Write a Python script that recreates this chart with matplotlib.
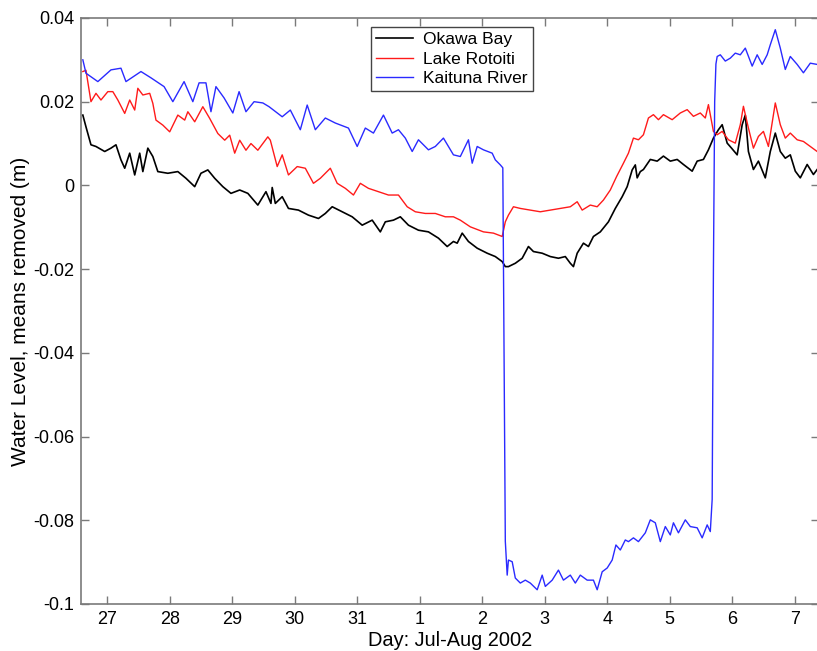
import matplotlib
matplotlib.use("Agg")
import matplotlib.pyplot as plt

plt.rcParams['font.family'] = ['Liberation Sans', 'DejaVu Sans']

# time axis: day of July 2002 (1 Aug = 32)
okawa_day = [26.61, 26.66, 26.74, 26.82, 26.96, 27.06, 27.14, 27.22, 27.28, 27.36,
             27.44, 27.52, 27.57, 27.65, 27.73, 27.81, 27.97, 28.13, 28.26, 28.40,
             28.50, 28.61, 28.72, 28.85, 28.98, 29.12, 29.25, 29.41, 29.54, 29.62,
             29.64, 29.69, 29.80, 29.90, 30.06, 30.22, 30.38, 30.49, 30.60, 30.76,
             30.92, 31.08, 31.24, 31.37, 31.45, 31.58, 31.69, 31.82, 31.98, 32.14,
             32.30, 32.44, 32.54, 32.60, 32.68, 32.78, 32.92, 33.08, 33.21, 33.32,
             33.37, 33.42, 33.53, 33.64, 33.74, 33.82, 33.96, 34.09, 34.22, 34.33,
             34.41, 34.46, 34.52, 34.62, 34.70, 34.78, 34.89, 35.02, 35.13, 35.24,
             35.32, 35.40, 35.45, 35.48, 35.53, 35.58, 35.69, 35.80, 35.90, 36.01,
             36.12, 36.22, 36.36, 36.44, 36.54, 36.62, 36.70, 36.78, 36.84, 36.92,
             36.99, 37.08, 37.16, 37.21, 37.26, 37.34, 37.42, 37.53, 37.61, 37.69,
             37.77, 37.85, 37.93, 38.01, 38.09, 38.20, 38.30, 38.36]
okawa_level = [0.0168, 0.0140, 0.0097, 0.0093, 0.0081, 0.0089, 0.0097, 0.0061, 0.0041, 0.0077,
               0.0025, 0.0077, 0.0033, 0.0089, 0.0069, 0.0033, 0.0029, 0.0033, 0.0017, -0.0003,
               0.0029, 0.0037, 0.0017, -0.0003, -0.0019, -0.0011, -0.0019, -0.0047, -0.0015, -0.0043,
               -0.0005, -0.0043, -0.0027, -0.0055, -0.0059, -0.0071, -0.0079, -0.0067, -0.0051, -0.0063,
               -0.0075, -0.0095, -0.0083, -0.0111, -0.0087, -0.0083, -0.0075, -0.0095, -0.0107, -0.0111,
               -0.0126, -0.0146, -0.0134, -0.0138, -0.0114, -0.0134, -0.0150, -0.0162, -0.0170, -0.0182,
               -0.0194, -0.0194, -0.0186, -0.0174, -0.0146, -0.0158, -0.0162, -0.0170, -0.0174, -0.0170,
               -0.0186, -0.0194, -0.0162, -0.0138, -0.0146, -0.0122, -0.0111, -0.0087, -0.0055, -0.0027,
               -0.0003, 0.0037, 0.0049, 0.0018, 0.0033, 0.0038, 0.0062, 0.0058, 0.0070, 0.0058,
               0.0062, 0.0050, 0.0034, 0.0058, 0.0062, 0.0085, 0.0113, 0.0133, 0.0145, 0.0101,
               0.0089, 0.0073, 0.0145, 0.0168, 0.0081, 0.0038, 0.0058, 0.0018, 0.0081, 0.0125,
               0.0081, 0.0065, 0.0073, 0.0034, 0.0018, 0.0050, 0.0026, 0.0038]

rotoiti_day = [26.61, 26.66, 26.74, 26.82, 26.90, 27.01, 27.09, 27.17, 27.28, 27.36,
               27.44, 27.49, 27.57, 27.68, 27.73, 27.78, 27.89, 28.00, 28.13, 28.24,
               28.29, 28.40, 28.53, 28.64, 28.77, 28.88, 28.96, 29.04, 29.12, 29.22,
               29.30, 29.41, 29.57, 29.61, 29.72, 29.80, 29.90, 30.04, 30.17, 30.30,
               30.41, 30.57, 30.68, 30.81, 30.94, 31.05, 31.18, 31.34, 31.50, 31.66,
               31.80, 31.93, 32.09, 32.25, 32.41, 32.54, 32.65, 32.81, 33.02, 33.18,
               33.32, 33.37, 33.42, 33.50, 33.61, 33.77, 33.93, 34.09, 34.25, 34.41,
               34.52, 34.60, 34.73, 34.84, 34.94, 35.05, 35.15, 35.26, 35.34, 35.42,
               35.50, 35.58, 35.66, 35.74, 35.82, 35.90, 36.04, 36.17, 36.28, 36.38,
               36.49, 36.57, 36.62, 36.70, 36.76, 36.84, 36.94, 37.05, 37.13, 37.18,
               37.26, 37.34, 37.42, 37.50, 37.58, 37.69, 37.77, 37.85, 37.93, 38.04,
               38.14, 38.25, 38.36]
rotoiti_level = [0.0272, 0.0275, 0.0200, 0.0220, 0.0204, 0.0224, 0.0224, 0.0204, 0.0172, 0.0204,
                 0.0180, 0.0232, 0.0216, 0.0220, 0.0196, 0.0156, 0.0144, 0.0128, 0.0168, 0.0156,
                 0.0176, 0.0152, 0.0188, 0.0160, 0.0124, 0.0108, 0.0120, 0.0077, 0.0108, 0.0084,
                 0.0100, 0.0084, 0.0116, 0.0108, 0.0045, 0.0073, 0.0025, 0.0045, 0.0041, 0.0005,
                 0.0017, 0.0041, 0.0005, -0.0007, -0.0023, 0.0005, -0.0007, -0.0015, -0.0023, -0.0023,
                 -0.0051, -0.0063, -0.0067, -0.0067, -0.0075, -0.0075, -0.0083, -0.0099, -0.0111, -0.0114,
                 -0.0122, -0.0087, -0.0071, -0.0051, -0.0055, -0.0059, -0.0063, -0.0059, -0.0055, -0.0051,
                 -0.0039, -0.0059, -0.0047, -0.0051, -0.0035, -0.0011, 0.0021, 0.0053, 0.0077, 0.0113,
                 0.0109, 0.0121, 0.0161, 0.0169, 0.0157, 0.0169, 0.0157, 0.0173, 0.0181, 0.0165,
                 0.0173, 0.0161, 0.0193, 0.0129, 0.0121, 0.0129, 0.0109, 0.0101, 0.0145, 0.0189,
                 0.0137, 0.0089, 0.0117, 0.0129, 0.0093, 0.0197, 0.0145, 0.0113, 0.0125, 0.0109,
                 0.0105, 0.0093, 0.0081]

kaituna_day = [26.61, 26.66, 26.85, 27.06, 27.22, 27.30, 27.54, 27.70, 27.91, 28.05,
               28.23, 28.37, 28.47, 28.58, 28.66, 28.74, 28.87, 29.01, 29.11, 29.22,
               29.35, 29.49, 29.59, 29.80, 29.93, 30.09, 30.20, 30.33, 30.49, 30.65,
               30.86, 31.00, 31.13, 31.26, 31.42, 31.56, 31.66, 31.77, 31.88, 31.98,
               32.14, 32.25, 32.38, 32.54, 32.65, 32.78, 32.84, 32.92, 33.02, 33.16,
               33.21, 33.29, 33.33, 33.37, 33.40, 33.42, 33.48, 33.53, 33.61, 33.69,
               33.77, 33.88, 33.96, 34.01, 34.12, 34.22, 34.30, 34.41, 34.49, 34.57,
               34.68, 34.78, 34.84, 34.92, 35.00, 35.08, 35.14, 35.21, 35.29, 35.34,
               35.42, 35.50, 35.61, 35.69, 35.77, 35.85, 35.93, 36.01, 36.06, 36.14,
               36.25, 36.33, 36.44, 36.52, 36.60, 36.65, 36.68, 36.70, 36.72, 36.74,
               36.76, 36.81, 36.89, 36.97, 37.05, 37.13, 37.21, 37.32, 37.40, 37.48,
               37.56, 37.61, 37.69, 37.77, 37.85, 37.93, 38.04, 38.14, 38.25, 38.36]
kaituna_level = [0.0300, 0.0268, 0.0248, 0.0276, 0.0280, 0.0248, 0.0272, 0.0257, 0.0236, 0.0200,
                 0.0248, 0.0200, 0.0245, 0.0245, 0.0176, 0.0236, 0.0209, 0.0173, 0.0224, 0.0176,
                 0.0200, 0.0197, 0.0188, 0.0164, 0.0180, 0.0133, 0.0192, 0.0133, 0.0161, 0.0149,
                 0.0137, 0.0093, 0.0137, 0.0125, 0.0168, 0.0125, 0.0133, 0.0113, 0.0081, 0.0109,
                 0.0085, 0.0093, 0.0113, 0.0073, 0.0069, 0.0109, 0.0053, 0.0093, 0.0085, 0.0077,
                 0.0061, 0.0049, 0.0042, -0.0850, -0.0931, -0.0895, -0.0899, -0.0938, -0.0950, -0.0943,
                 -0.0950, -0.0966, -0.0931, -0.0958, -0.0943, -0.0919, -0.0943, -0.0931, -0.0950, -0.0931,
                 -0.0943, -0.0943, -0.0966, -0.0923, -0.0914, -0.0895, -0.0859, -0.0871, -0.0847, -0.0851,
                 -0.0842, -0.0851, -0.0830, -0.0799, -0.0806, -0.0851, -0.0815, -0.0835, -0.0806, -0.0830,
                 -0.0799, -0.0815, -0.0818, -0.0842, -0.0811, -0.0827, -0.0750, -0.0200, 0.0200, 0.0290,
                 0.0308, 0.0312, 0.0297, 0.0304, 0.0316, 0.0312, 0.0328, 0.0285, 0.0312, 0.0289,
                 0.0312, 0.0336, 0.0372, 0.0328, 0.0277, 0.0308, 0.0289, 0.0269, 0.0292, 0.0289]

x_ticks = [27, 28, 29, 30, 31, 32, 33, 34, 35, 36, 37, 38]
x_labels = ['27', '28', '29', '30', '31', '1', '2', '3', '4', '5', '6', '7']
y_ticks = [-0.1, -0.08, -0.06, -0.04, -0.02, 0, 0.02, 0.04]
y_labels = ['-0.1', '-0.08', '-0.06', '-0.04', '-0.02', '0', '0.02', '0.04']

fig = plt.figure(figsize=(8.17, 6.51), dpi=100)
ax = fig.add_axes([0.0991, 0.0722, 0.9034, 0.9002])

ax.plot(okawa_day, okawa_level, color='black', lw=1.2, label='Okawa Bay')
ax.plot(rotoiti_day, rotoiti_level, color='#ff1a1a', lw=1.0, label='Lake Rotoiti')
ax.plot(kaituna_day, kaituna_level, color='#2a2aff', lw=1.0, label='Kaituna River')

ax.set_xlim(26.58, 38.39)
ax.set_ylim(-0.1, 0.04)
ax.set_xticks(x_ticks)
ax.set_xticklabels(x_labels)
ax.set_yticks(y_ticks)
ax.set_yticklabels(y_labels)

axis_grey = '#7a7a7a'
for sp in ax.spines.values():
    sp.set_color(axis_grey)
    sp.set_linewidth(1.2)
ax.tick_params(direction='in', top=True, right=True, length=6, width=1.0,
               color=axis_grey, labelsize=13, pad=5)

ax.set_xlabel('Day: Jul-Aug 2002', fontsize=14.4, labelpad=2)
ax.set_ylabel('Water Level, means removed (m)', fontsize=15, labelpad=2)

leg = ax.legend(loc='upper left', bbox_to_anchor=(0.393, 0.985), fontsize=12.5,
                frameon=True, fancybox=False, framealpha=1, edgecolor='#444444',
                handlelength=2.1, handletextpad=0.6, labelspacing=0.25,
                borderpad=0.3, borderaxespad=0)
leg.get_frame().set_linewidth(1.0)

fig.savefig('out.png', dpi=100)
